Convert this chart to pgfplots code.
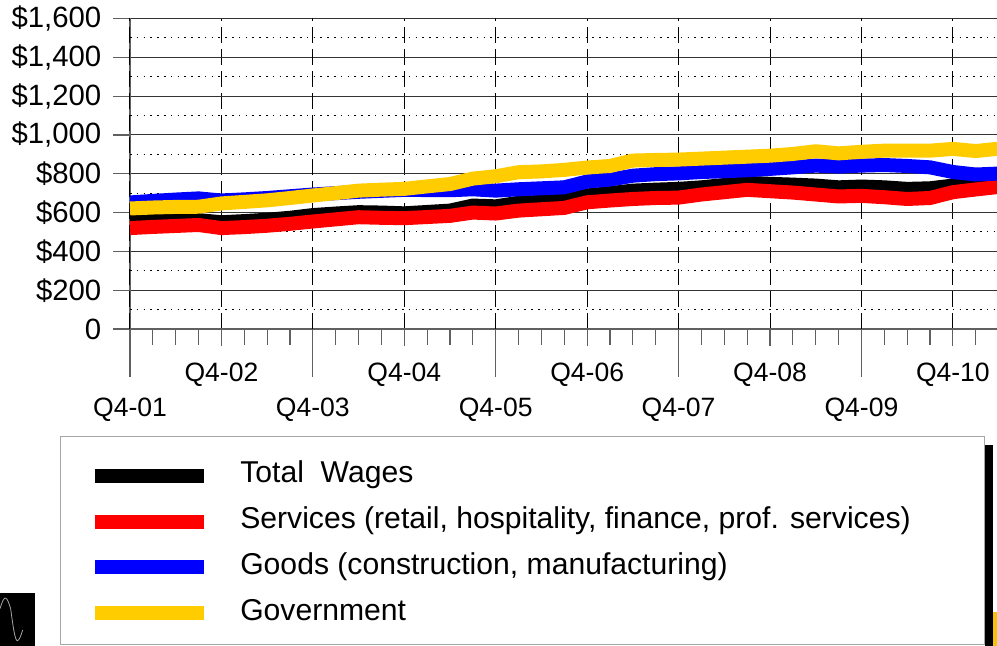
\documentclass[border=0pt]{standalone}
\usepackage{pgfplots}
\pgfplotsset{compat=1.18}
\usepackage{pgfplotstable}
\usepackage{fontspec}
\setmainfont{Liberation Sans}
\definecolor{govyellow}{HTML}{FFCC00}
\definecolor{gridgray}{HTML}{606060}

\pgfplotstableread{
q total services goods gov
0 555 520 652 621
1 557 526 660 626
2 559 531 667 629
3 561 536 673 630
4 550 520 662 647
5 556 525 668 655
6 563 532 675 663
7 573 542 684 675
8 587 554 693 688
9 595 565 700 700
10 602 576 707 713
11 600 573 712 718
12 596 571 717 722
13 603 577 716 735
14 610 583 715 747
15 636 600 720 775
16 632 595 713 787
17 650 610 720 808
18 655 617 725 812
19 662 624 730 820
20 688 653 760 832
21 700 662 770 840
22 713 670 790 868
23 718 675 798 871
24 722 677 802 873
25 730 693 809 878
26 742 705 813 883
27 753 717 818 888
28 748 710 825 893
29 744 703 833 902
30 739 693 842 916
31 730 683 837 905
32 734 686 842 913
33 730 679 845 919
34 722 670 840 919
35 725 675 833 919
36 739 705 809 928
37 750 719 796 917
38 760 732 801 929
}\wages

\begin{document}
\begin{tikzpicture}
\path[use as bounding box] (0,0) rectangle (747.75pt,484.5pt);
\begin{axis}[
  at={(97.5pt,237.75pt)}, anchor=south west,
  scale only axis, width=650.25pt, height=232.875pt,
  xmin=0, xmax=37.93, ymin=0, ymax=1600,
  axis x line=bottom, axis y line=left,
  axis line style={-, draw=gridgray, line width=0.9pt},
  tick align=outside,
  ytick={0,200,...,1600},
  yticklabels={0,{\$200},{\$400},{\$600},{\$800},{\$1,000},{\$1,200},{\$1,400},{\$1,600}},
  yticklabel style={font=\fontsize{22}{26}\selectfont, anchor=east, xshift=-5.25pt},
  xtick={4,12,20,28,36},
  xticklabels={Q4-02,Q4-04,Q4-06,Q4-08,Q4-10},
  xticklabel style={font=\fontsize{19.9}{24}\selectfont, yshift=-9pt},
  minor xtick={1,2,3,5,6,7,9,10,11,13,14,15,17,18,19,21,22,23,25,26,27,29,30,31,33,34,35,37},
  extra x ticks={0,8,16,24,32},
  extra x tick labels={Q4-01,Q4-03,Q4-05,Q4-07,Q4-09},
  extra x tick style={major tick length=36pt, xticklabel style={yshift=-3pt}},
  major tick length=12.75pt, minor tick length=12pt,
  tick style={draw=gridgray, line width=0.9pt},
  xmajorgrids, ymajorgrids,
  major grid style={draw=black!80, line width=0.75pt},
  x grid style={dash pattern=on 12pt off 4.5pt, draw=black},
  extra y ticks={100,300,...,1500},
  extra y tick labels={},
  extra y tick style={major tick length=0pt, major grid style={dash pattern=on 1.2pt off 3.9pt, draw=black, line width=0.75pt}},
  legend style={at={(axis description cs:-0.0484,-0.449)}, anchor=north west, draw=none, fill=none, inner sep=0pt, row sep=23.8pt, font=\fontsize{22.6}{27}\selectfont, nodes={inner sep=0pt, text height=0.77em, text depth=0pt}, /tikz/every odd column/.append style={column sep=21.75pt}},
  legend cell align=left,
  legend image code/.code={\draw[#1, line cap=butt] (0pt,1.5pt) -- (81.75pt,1.5pt);},
]
\addplot[black, line width=10.5pt, line join=round, line cap=butt] table[x=q,y=total]{\wages};
\addlegendentry{Total\ \ Wages}
\addplot[red, line width=10.5pt, line join=round, line cap=butt] table[x=q,y=services]{\wages};
\addlegendentry{Services (retail, hospitality, finance, prof. services)}
\addplot[blue, line width=10.5pt, line join=round, line cap=butt] table[x=q,y=goods]{\wages};
\addlegendentry{Goods (construction, manufacturing)}
\addplot[govyellow, line width=10.5pt, line join=round, line cap=butt] table[x=q,y=gov]{\wages};
\addlegendentry{Government}
\end{axis}
\draw[black!35, line width=0.75pt] (45pt,0.75pt) rectangle (738pt,156.75pt);
\fill[black] (738.75pt,0pt) rectangle (744.75pt,150.75pt);
\fill[govyellow!85!brown] (744.75pt,0pt) rectangle (747.75pt,25.5pt);
\fill[black] (0pt,0pt) rectangle (26.25pt,39.75pt);
\draw[gray!70, line width=0.6pt] (0pt,28pt) sin (4pt,36pt) cos (8pt,28pt) sin (13pt,4pt) cos (17pt,12pt);
\end{tikzpicture}
\end{document}
